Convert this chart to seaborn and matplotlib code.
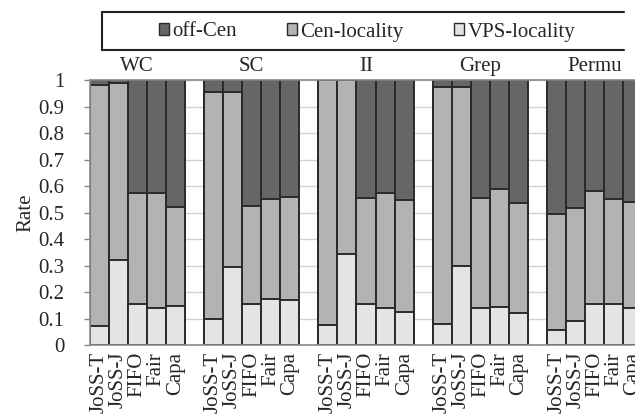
import pandas as pd
import seaborn as sns
import matplotlib.pyplot as plt
from matplotlib.patches import Patch
from matplotlib.lines import Line2D

groups = ["WC", "SC", "II", "Grep", "Permu"]
schedulers = ["JoSS-T", "JoSS-J", "FIFO", "Fair", "Capa"]

# rates per group, one value per scheduler
vps_locality = {
    "WC":    [0.070, 0.320, 0.155, 0.140, 0.147],
    "SC":    [0.100, 0.295, 0.155, 0.175, 0.170],
    "II":    [0.075, 0.343, 0.155, 0.140, 0.125],
    "Grep":  [0.078, 0.300, 0.140, 0.145, 0.120],
    "Permu": [0.057, 0.090, 0.155, 0.155, 0.140],
}
cen_locality = {
    "WC":    [0.910, 0.670, 0.420, 0.435, 0.373],
    "SC":    [0.855, 0.660, 0.370, 0.375, 0.390],
    "II":    [0.925, 0.657, 0.400, 0.435, 0.422],
    "Grep":  [0.897, 0.675, 0.415, 0.443, 0.415],
    "Permu": [0.438, 0.427, 0.428, 0.395, 0.400],
}
off_cen = {
    "WC":    [0.020, 0.010, 0.425, 0.425, 0.480],
    "SC":    [0.045, 0.045, 0.475, 0.450, 0.440],
    "II":    [0.000, 0.000, 0.445, 0.425, 0.453],
    "Grep":  [0.025, 0.025, 0.445, 0.412, 0.465],
    "Permu": [0.505, 0.483, 0.417, 0.450, 0.460],
}

c_off = "#666666"
c_cen = "#b3b3b3"
c_vps = "#e4e4e4"
edge = "#2a2a2a"

rows = []
order = []
for gi, g in enumerate(groups):
    for si, s in enumerate(schedulers):
        key = g + "|" + s
        order.append(key)
        v = vps_locality[g][si]
        c = cen_locality[g][si]
        o = off_cen[g][si]
        rows.append({"slot": key, "vps": v, "cen_top": v + c, "total": v + c + o})
    if gi < len(groups) - 1:
        order.append("gap%d" % gi)
df = pd.DataFrame(rows)

sns.set_theme(style="white")
plt.rcParams["font.family"] = ["Liberation Serif", "DejaVu Serif"]

fig = plt.figure(figsize=(6.35, 4.15), dpi=100)
ax = fig.add_axes([89.5 / 635, 70 / 415, 553 / 635, 265 / 415])

for col, color in [("total", c_off), ("cen_top", c_cen), ("vps", c_vps)]:
    sns.barplot(data=df, x="slot", y=col, order=order, color=color, width=1.0,
                saturation=1, errorbar=None, edgecolor=edge, linewidth=1.4, ax=ax)

ax.set_xlim(-0.5, len(order) - 0.5)
ax.set_ylim(0, 1)
ax.set_yticks([i / 10 for i in range(11)])
ax.set_yticklabels(["0"] + ["%.1f" % (i / 10) for i in range(1, 10)] + ["1"])
ax.yaxis.grid(True, color="#d2d2d2", linewidth=1.0)
ax.set_axisbelow(True)

pos = [order.index(k) for k in order if not k.startswith("gap")]
ax.set_xticks(pos)
ax.set_xticklabels(schedulers * len(groups), rotation=90, va="top", ha="center")
ax.tick_params(axis="x", length=0, pad=5, labelsize=15)
ax.tick_params(axis="y", left=True, length=4, width=1, color="#888888", pad=14, labelsize=15)

ax.set_xlabel("")
ax.set_ylabel("Rate", fontsize=15)
ax.yaxis.set_label_coords(-0.098, 0.5)

for sp in ["left", "bottom", "top"]:
    ax.spines[sp].set_color("#8a8a8a")
    ax.spines[sp].set_linewidth(1.2)
ax.spines["right"].set_visible(False)

for gi, g in enumerate(groups):
    ax.text(order.index(g + "|" + schedulers[2]), 1.05, g, ha="center", va="center",
            fontsize=15, clip_on=False)

# legend box
handles = [Patch(facecolor=c_off, edgecolor=edge, label="off-Cen"),
           Patch(facecolor=c_cen, edgecolor=edge, label="Cen-locality"),
           Patch(facecolor=c_vps, edgecolor=edge, label="VPS-locality")]
fig.legend(handles=handles, loc="center", bbox_to_anchor=(367 / 635, 1 - 32 / 415),
           ncol=3, frameon=False, fontsize=15, handlelength=0.5, handleheight=0.5,
           handletextpad=0.15, columnspacing=2.4)
x0, x1 = 102 / 635, 624 / 635
y0, y1 = 1 - 50 / 415, 1 - 12 / 415
for xs, ys in [([x0, x1], [y1, y1]), ([x0, x1], [y0, y0]), ([x0, x0], [y0, y1])]:
    fig.add_artist(Line2D(xs, ys, color="#222222", linewidth=1.5))

fig.savefig("out.png", dpi=100)
